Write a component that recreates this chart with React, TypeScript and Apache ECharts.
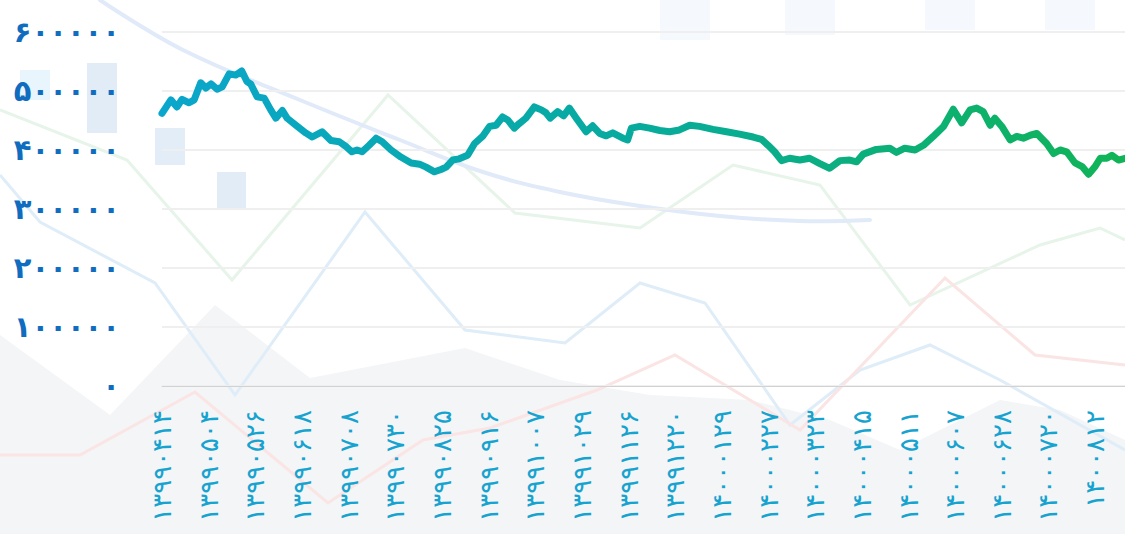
import React, { useEffect, useRef } from 'react';
import * as echarts from 'echarts';

const xLabels = [
  '۱۳۹۹۰۴۱۴', '۱۳۹۹۰۵۰۴', '۱۳۹۹۰۵۲۶', '۱۳۹۹۰۶۱۸', '۱۳۹۹۰۷۰۸', '۱۳۹۹۰۷۳۰', '۱۳۹۹۰۸۲۵',
  '۱۳۹۹۰۹۱۶', '۱۳۹۹۱۰۰۷', '۱۳۹۹۱۰۲۹', '۱۳۹۹۱۱۲۶', '۱۳۹۹۱۲۲۰', '۱۴۰۰۰۱۲۹', '۱۴۰۰۰۲۲۷',
  '۱۴۰۰۰۳۲۳', '۱۴۰۰۰۴۱۵', '۱۴۰۰۰۵۱۱', '۱۴۰۰۰۶۰۷', '۱۴۰۰۰۶۲۸', '۱۴۰۰۰۷۲۰', '۱۴۰۰۸۱۲',
];

const yTickLabels = ['۰', '۱۰۰۰۰۰', '۲۰۰۰۰۰', '۳۰۰۰۰۰', '۴۰۰۰۰۰', '۵۰۰۰۰۰', '۶۰۰۰۰۰'];

// position of each point, measured in label steps (0 = first label)
const positions = [
  0, 0.19, 0.32, 0.43, 0.58, 0.69, 0.83, 0.94, 1.05, 1.18, 1.29, 1.44, 1.58, 1.71, 1.82, 1.9,
  2.04, 2.19, 2.33, 2.44, 2.58, 2.68, 2.87, 3.08, 3.22, 3.43, 3.62, 3.8, 3.94, 4.07, 4.18, 4.29,
  4.44, 4.59, 4.72, 4.91, 5.12, 5.34, 5.52, 5.66, 5.84, 5.98, 6.09, 6.23, 6.37, 6.55, 6.7, 6.87,
  7.02, 7.16, 7.3, 7.41, 7.55, 7.66, 7.8, 7.98, 8.13, 8.23, 8.32, 8.48, 8.61, 8.73, 8.88, 9.09,
  9.23, 9.38, 9.52, 9.66, 9.88, 9.98, 10.06, 10.24, 10.45, 10.67, 10.88, 11.09, 11.31, 11.52,
  11.81, 12.1, 12.38, 12.67, 12.85, 12.99, 13.13, 13.28, 13.45, 13.67, 13.88, 14.1, 14.31, 14.53,
  14.74, 14.89, 15.03, 15.31, 15.6, 15.74, 15.92, 16.14, 16.32, 16.53, 16.75, 16.96, 17.14, 17.32,
  17.46, 17.6, 17.75, 17.85, 18.0, 18.18, 18.32, 18.46, 18.61, 18.75, 18.96, 19.11, 19.25, 19.39,
  19.57, 19.72, 19.86, 20.0, 20.11, 20.25, 20.36, 20.5, 20.64,
];

const values = [
  462000, 485000, 473000, 486000, 480000, 485000, 514000, 505000, 512000, 503000, 507000, 529000,
  527000, 534000, 516000, 512000, 490000, 488000, 468000, 454000, 467000, 454000, 442000, 429000,
  422000, 431000, 416000, 414000, 406000, 397000, 400000, 397000, 408000, 420000, 414000, 400000,
  388000, 378000, 376000, 371000, 363000, 367000, 371000, 383000, 385000, 391000, 411000, 423000,
  440000, 442000, 456000, 451000, 437000, 445000, 454000, 473000, 468000, 463000, 454000, 465000,
  458000, 471000, 454000, 431000, 441000, 428000, 424000, 429000, 420000, 417000, 437000, 440000,
  437000, 433000, 431000, 434000, 442000, 440000, 435000, 431000, 427000, 422000, 418000, 408000,
  397000, 382000, 386000, 383000, 386000, 377000, 369000, 382000, 383000, 380000, 393000, 401000,
  403000, 396000, 403000, 400000, 408000, 423000, 440000, 469000, 446000, 468000, 471000, 465000,
  442000, 454000, 440000, 417000, 423000, 420000, 425000, 428000, 411000, 394000, 400000, 397000,
  378000, 372000, 359000, 372000, 386000, 386000, 391000, 383000, 386000,
];

export default function App() {
  const ref = useRef<HTMLDivElement>(null);

  useEffect(() => {
    const chart = echarts.init(ref.current as HTMLDivElement, null, { renderer: 'svg' });

    const deco: any[] = [
      {
        type: 'polygon', z: -100, silent: true,
        shape: {
          points: [[0, 335], [110, 415], [215, 305], [310, 378], [465, 348], [560, 380], [650, 395],
            [750, 400], [830, 420], [900, 450], [1000, 400], [1060, 410], [1125, 440], [1125, 534], [0, 534]],
        },
        style: { fill: '#f4f5f7' },
      },
      { type: 'rect', z: -99, silent: true, shape: { x: 20, y: 70, width: 30, height: 30 }, style: { fill: '#e9f5fc' } },
      { type: 'rect', z: -99, silent: true, shape: { x: 87, y: 63, width: 30, height: 70 }, style: { fill: '#e1ecf6' } },
      { type: 'rect', z: -99, silent: true, shape: { x: 155, y: 128, width: 30, height: 37 }, style: { fill: '#e3edf7' } },
      { type: 'rect', z: -99, silent: true, shape: { x: 217, y: 172, width: 29, height: 38 }, style: { fill: '#e1ecf6' } },
      { type: 'rect', z: -99, silent: true, shape: { x: 660, y: 0, width: 50, height: 40 }, style: { fill: '#f5f8fc' } },
      { type: 'rect', z: -99, silent: true, shape: { x: 785, y: 0, width: 50, height: 35 }, style: { fill: '#f5f8fc' } },
      { type: 'rect', z: -99, silent: true, shape: { x: 925, y: 0, width: 50, height: 30 }, style: { fill: '#f5f8fc' } },
      { type: 'rect', z: -99, silent: true, shape: { x: 1045, y: 0, width: 50, height: 30 }, style: { fill: '#f5f8fc' } },
      {
        type: 'polyline', z: -98, silent: true,
        shape: { points: [[0, 110], [127, 160], [232, 280], [388, 95], [515, 213], [640, 228], [733, 165],
          [820, 185], [910, 305], [1040, 245], [1100, 228], [1125, 240]] },
        style: { stroke: '#e7f4e9', lineWidth: 3, fill: null },
      },
      {
        type: 'polyline', z: -98, silent: true,
        shape: { points: [[0, 175], [40, 222], [155, 283], [235, 395], [365, 212], [465, 330], [565, 343],
          [640, 283], [705, 303], [790, 425], [860, 370], [930, 345], [1000, 380], [1125, 450]] },
        style: { stroke: '#dfedf8', lineWidth: 3, fill: null },
      },
      {
        type: 'polyline', z: -98, silent: true,
        shape: { points: [[0, 455], [80, 455], [195, 392], [328, 503], [423, 440], [490, 428], [597, 390],
          [675, 355], [800, 430], [945, 278], [1035, 355], [1125, 365]] },
        style: { stroke: '#fbe4e4', lineWidth: 3, fill: null },
      },
      {
        type: 'polyline', z: -97, silent: true,
        shape: { smooth: 0.4, points: [[100, 0], [183, 50], [300, 100], [400, 140], [483, 172], [560, 192],
          [640, 206], [720, 216], [800, 221], [870, 220]] },
        style: { stroke: '#e1eaf9', lineWidth: 4, fill: null, lineCap: 'round' },
      },
    ];

    chart.setOption({
      animation: false,
      backgroundColor: '#ffffff',
      graphic: deco,
      grid: { left: 162, right: 0, top: 32, bottom: 148, containLabel: false },
      xAxis: {
        type: 'value',
        min: 0,
        max: 20.64,
        interval: 1,
        axisLine: { show: true, lineStyle: { color: '#d2d2d2', width: 1 } },
        axisTick: { show: false },
        splitLine: { show: false },
        axisLabel: {
          rotate: 90,
          margin: 24,
          color: '#17a3cf',
          fontSize: 26,
          fontFamily: 'DejaVu Sans',
          showMaxLabel: false,
          formatter: (v: number) => (Number.isInteger(v) && xLabels[v] ? xLabels[v] : ''),
        },
      },
      yAxis: {
        type: 'value',
        min: 0,
        max: 600000,
        interval: 100000,
        axisLine: { show: false },
        axisTick: { show: false },
        splitLine: { lineStyle: { color: '#efefef', width: 2 } },
        axisLabel: {
          margin: 42,
          color: '#0f6cbf',
          fontWeight: 'bold',
          fontSize: 29,
          fontFamily: 'DejaVu Sans',
          padding: [0, 0, 8, 0],
          formatter: (v: number) => yTickLabels[Math.round(v / 100000)] ?? '',
        },
      },
      series: [
        {
          type: 'line',
          data: positions.map((t, i) => [t, values[i]]),
          showSymbol: false,
          symbol: 'none',
          lineStyle: {
            width: 7,
            cap: 'round',
            join: 'round',
            color: new echarts.graphic.LinearGradient(0, 0, 1, 0, [
              { offset: 0, color: '#0aa6cc' },
              { offset: 0.5, color: '#07ab9c' },
              { offset: 1, color: '#10b456' },
            ]),
          },
        },
      ],
    });

    return () => chart.dispose();
  }, []);

  return (
    <div
      ref={ref}
      style={{ position: 'fixed', left: 0, top: 0, width: 1125, height: 534 }}
    />
  );
}
